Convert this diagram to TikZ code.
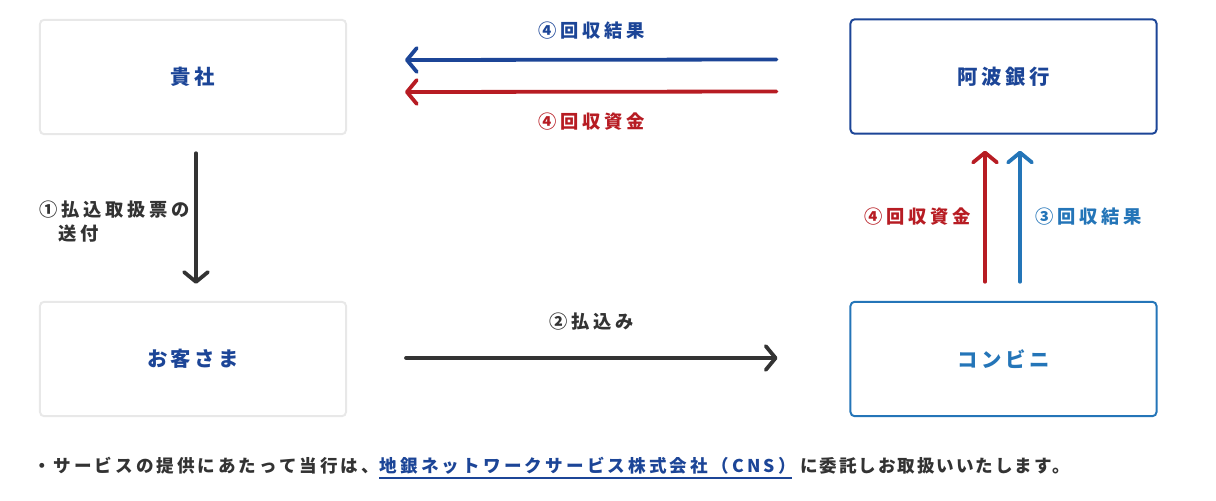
\documentclass[tikz,border=0pt]{standalone}
\usepackage{fontspec}
\setmainfont{Noto Sans CJK JP}
\usepackage{tikz}
\usetikzlibrary{arrows.meta, positioning, calc}

\definecolor{awablue}{HTML}{1C4597}
\definecolor{awared}{HTML}{B71C23}
\definecolor{cvsblue}{HTML}{2475B8}
\definecolor{inkgray}{HTML}{333333}
\definecolor{edgegray}{HTML}{E8E8E8}

\begin{document}
\begin{tikzpicture}[
  x=0.025cm, y=-0.025cm,
  every node/.style={font=\bfseries},
  partybox/.style={draw, rounded corners=3pt, line width=1.4pt, minimum width=7.65cm,
                   minimum height=2.86cm, inner sep=0pt, outer sep=0pt,
                   font=\fontsize{14.5}{16}\bfseries\addfontfeatures{LetterSpace=17}},
  flowlabel/.style={font=\fontsize{13}{17}\bfseries\addfontfeatures{LetterSpace=20}, inner sep=0pt},
  notetext/.style={font=\fontsize{12.5}{14}\bfseries\addfontfeatures{LetterSpace=#1}, inner sep=0pt,
                   text=inkgray},
  arrow/.style={-{Straight Barb[length=7pt, width=17pt, round]}, line width=2.7pt, line cap=round},
]

% Bounding box
\useasboundingbox (0,0) rectangle (1216,500);

% Parties
\node[partybox, draw=edgegray, text=awablue] (firm) at (193,77) {貴社};
\node[partybox, draw=awablue, text=awablue] (bank) at (1003.5,76.5) {阿波銀行};
\node[partybox, draw=edgegray, text=awablue] (cust) at (193,359) {お客さま};
\node[partybox, draw=cvsblue, text=cvsblue] (conv) at (1003.5,359) {コンビニ};

% Bank -> firm
\draw[arrow, awablue] ($(bank.west)+(-74,-17)$) -- ($(firm.east)+(59,-17)$);
\draw[arrow, awared] ($(bank.west)+(-74,15)$) -- ($(firm.east)+(59,15)$);
\node[flowlabel, text=awablue] (resultA) at (592,31) {④回収結果};
\node[flowlabel, text=awared] (fundA) at (592,122) {④回収資金};

% Firm -> customer
\draw[arrow, inkgray] ($(firm.south)+(3,19)$) -- ($(cust.north)+(3,-18)$);
\node[flowlabel, text=inkgray, align=left, anchor=east] (slip) at (190,222)
  {①払込取扱票の\\\hphantom{①}送付};

% Customer -> convenience store
\draw[arrow, inkgray] ($(cust.east)+(60,-1)$) -- ($(conv.west)+(-73,-1)$);
\node[flowlabel, text=inkgray] (pay) at (592,322) {②払込み};

% Convenience store -> bank
\draw[arrow, awared] ($(conv.north)+(-18.5,-20)$) -- ($(bank.south)+(-18.5,17)$);
\draw[arrow, cvsblue] ($(conv.north)+(16.5,-20)$) -- ($(bank.south)+(16.5,17)$);
\node[flowlabel, text=awared, anchor=east] (fundB) at (971,217) {④回収資金};
\node[flowlabel, text=cvsblue, anchor=west] (resultB) at (1035,217) {③回収結果};

% Note
\node[notetext=17, anchor=base west] (noteA) at (33,472) {・サービスの提供にあたって当行は、};
\node[notetext=18, anchor=base west, text=awablue] (noteB) at (noteA.base east) {地銀ネットワークサービス株式会社（CNS）};
\node[notetext=11, anchor=base west] (noteC) at ($(noteB.base east)+(4,0)$) {に委託しお取扱いいたします。};
\draw[awablue, line width=1.4pt] ($(noteB.south west)+(0,4)$) -- ($(noteB.south east)+(-4,4)$);

\end{tikzpicture}
\end{document}
